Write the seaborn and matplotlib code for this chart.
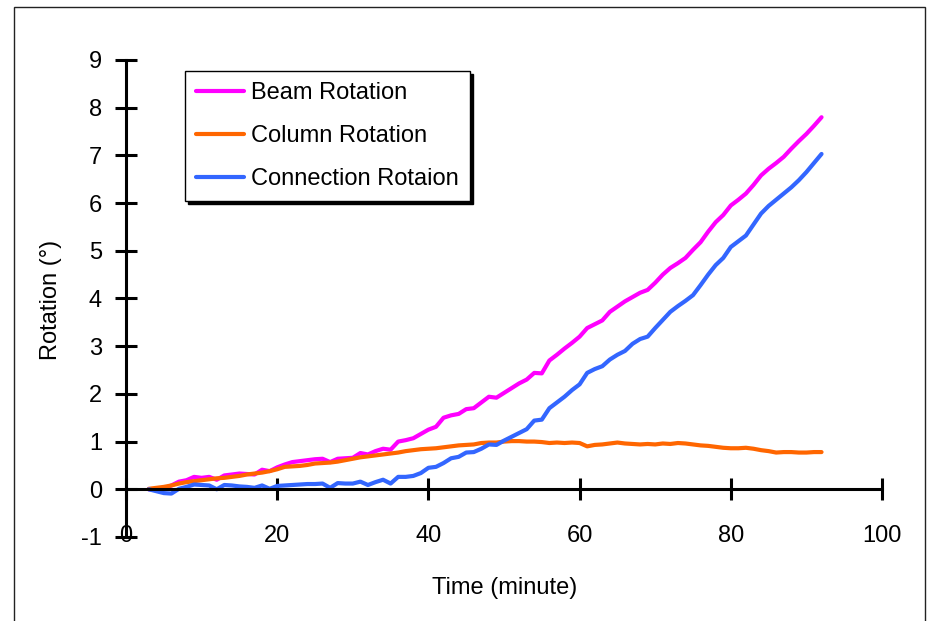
import pandas as pd
import matplotlib
matplotlib.use("Agg")
import matplotlib.pyplot as plt
import seaborn as sns
from matplotlib.patches import Rectangle

# --- data (minutes / degrees) ---
time_min = list(range(3, 93))

beam_rot = [0.00, 0.00, 0.01, 0.08, 0.16, 0.19, 0.26, 0.24, 0.26, 0.20,
            0.29, 0.31, 0.33, 0.32, 0.31, 0.41, 0.38, 0.46, 0.52, 0.57,
            0.59, 0.61, 0.63, 0.64, 0.57, 0.64, 0.65, 0.66, 0.76, 0.73,
            0.80, 0.85, 0.83, 1.00, 1.03, 1.07, 1.16, 1.25, 1.31, 1.50,
            1.55, 1.58, 1.68, 1.70, 1.82, 1.94, 1.92, 2.02, 2.12, 2.22,
            2.30, 2.44, 2.43, 2.70, 2.82, 2.95, 3.07, 3.20, 3.38, 3.46,
            3.54, 3.72, 3.83, 3.94, 4.03, 4.12, 4.18, 4.33, 4.50, 4.64,
            4.74, 4.85, 5.02, 5.18, 5.40, 5.60, 5.75, 5.95, 6.07, 6.20,
            6.38, 6.58, 6.72, 6.84, 6.97, 7.14, 7.30, 7.45, 7.62, 7.80]

column_rot = [0.01, 0.03, 0.05, 0.08, 0.12, 0.15, 0.17, 0.19, 0.21, 0.23,
              0.24, 0.26, 0.28, 0.31, 0.33, 0.35, 0.38, 0.42, 0.47, 0.48,
              0.49, 0.51, 0.54, 0.55, 0.56, 0.58, 0.61, 0.64, 0.67, 0.69,
              0.71, 0.73, 0.75, 0.77, 0.80, 0.82, 0.84, 0.85, 0.86, 0.88,
              0.90, 0.92, 0.93, 0.94, 0.97, 0.98, 0.98, 1.00, 1.01, 1.01,
              1.00, 1.00, 0.99, 0.97, 0.98, 0.97, 0.98, 0.97, 0.90, 0.93,
              0.94, 0.96, 0.98, 0.96, 0.95, 0.94, 0.95, 0.94, 0.96, 0.95,
              0.97, 0.96, 0.94, 0.92, 0.91, 0.89, 0.87, 0.86, 0.86, 0.87,
              0.85, 0.82, 0.80, 0.77, 0.78, 0.78, 0.77, 0.77, 0.78, 0.78]

conn_rot = [0.00, -0.04, -0.08, -0.09, 0.01, 0.05, 0.10, 0.09, 0.08, 0.00,
            0.09, 0.08, 0.06, 0.05, 0.03, 0.08, 0.01, 0.07, 0.08, 0.09,
            0.10, 0.11, 0.11, 0.12, 0.03, 0.13, 0.12, 0.12, 0.16, 0.09,
            0.15, 0.20, 0.12, 0.26, 0.26, 0.28, 0.34, 0.45, 0.47, 0.55,
            0.65, 0.68, 0.77, 0.78, 0.85, 0.94, 0.93, 1.02, 1.10, 1.18,
            1.26, 1.44, 1.46, 1.70, 1.82, 1.94, 2.08, 2.20, 2.44, 2.52,
            2.58, 2.72, 2.82, 2.90, 3.05, 3.15, 3.20, 3.38, 3.55, 3.72,
            3.84, 3.95, 4.07, 4.28, 4.50, 4.70, 4.85, 5.08, 5.20, 5.32,
            5.55, 5.78, 5.94, 6.07, 6.20, 6.33, 6.48, 6.65, 6.84, 7.03]

series_names = ["Beam Rotation", "Column Rotation", "Connection Rotaion"]
series_colors = ["#FF00FF", "#FF6600", "#3366FF"]

df = pd.concat([
    pd.DataFrame({"time": time_min, "rot": vals, "series": name})
    for name, vals in zip(series_names, [beam_rot, column_rot, conn_rot])
])

# --- style ---
sns.set_style("white")
plt.rcParams["font.family"] = ["Liberation Sans", "DejaVu Sans"]
plt.rcParams["font.size"] = 17
plt.rcParams["text.color"] = "black"
plt.rcParams["axes.unicode_minus"] = False  # Excel draws a plain hyphen

fig = plt.figure(figsize=(9.3, 6.21), dpi=100)
ax = fig.add_axes([0.1355, 0.1353, 0.8129, 0.7681])

sns.lineplot(data=df, x="time", y="rot", hue="series", hue_order=series_names,
             palette=dict(zip(series_names, series_colors)), estimator=None,
             linewidth=3, ax=ax)

ax.set_xlim(0, 100)
ax.set_ylim(-1, 9)
ax.set_xticks(range(0, 101, 20))
ax.set_yticks(range(-1, 10))

# Excel-like axes crossing at (0, 0)
ax.spines["top"].set_visible(False)
ax.spines["right"].set_visible(False)
ax.spines["bottom"].set_position(("data", 0))
ax.spines["left"].set_position(("data", 0))
for s in ["bottom", "left"]:
    ax.spines[s].set_linewidth(2.2)
    ax.spines[s].set_color("black")

ax.tick_params(axis="both", direction="inout", length=15.8, width=2.2,
               colors="black", labelsize=17, bottom=True, left=True)
ax.tick_params(axis="x", pad=18)
ax.tick_params(axis="y", pad=9.4)

ax.set_xlabel("")
ax.set_ylabel("")
fig.text(0.543, 0.053, "Time (minute)", ha="center", va="center",
         fontsize=17, color="black")
fig.text(0.055, 0.517, "Rotation (°)", ha="center", va="center",
         rotation=90, fontsize=17, color="black")

handles, labels = ax.get_legend_handles_labels()
leg = ax.legend(handles, labels, loc="upper left",
                bbox_to_anchor=(185 / 930, 1 - 71 / 621),
                bbox_transform=fig.transFigure, fancybox=False,
                shadow={"color": "black", "alpha": 1}, frameon=True,
                edgecolor="black", framealpha=1, fontsize=17,
                handlelength=2.0, handletextpad=0.3, labelspacing=0.88,
                borderpad=0.48, borderaxespad=0)
leg.get_frame().set_linewidth(1)
for line in leg.get_lines():
    line.set_linewidth(3)
for t in leg.get_texts():
    t.set_color("black")

# outer chart frame
fig.patches.append(Rectangle((14 / 930, -0.02), (925 - 14) / 930, 1 - 7 / 621 + 0.02,
                             transform=fig.transFigure, fill=False,
                             edgecolor="#222222", linewidth=1))

fig.savefig("out.png", dpi=100)
